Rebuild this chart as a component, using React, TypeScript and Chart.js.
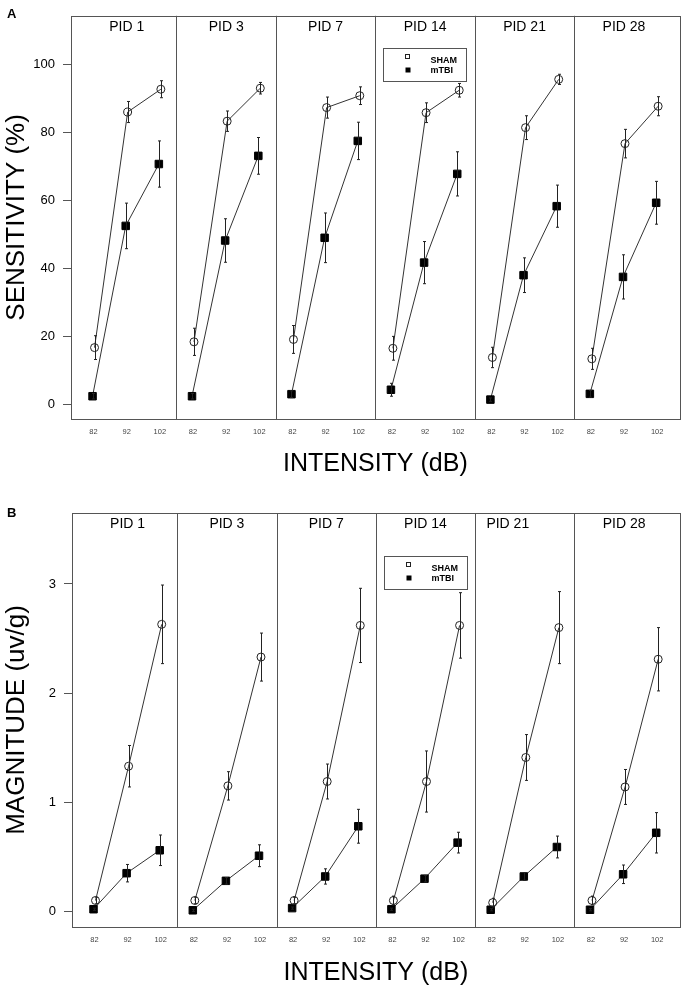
import { useEffect, useRef } from "react";
import { Chart, registerables } from "chart.js";

Chart.register(...registerables);

const FONT = "'Liberation Sans', Arial, sans-serif";

const pids = ["PID 1", "PID 3", "PID 7", "PID 14", "PID 21", "PID 28"];
const intensities = ["82", "92", "102"];

// sensitivity (%) per PID, at 82 / 92 / 102 dB
const shamSensitivity = [
    [16.7, 86.0, 92.7],
    [18.4, 83.3, 93.0],
    [19.1, 87.3, 90.8],
    [16.5, 85.8, 92.4],
    [13.8, 81.4, 95.6],
    [13.4, 76.7, 87.7],
];
const shamSensitivitySE = [
    [3.5, 3.1, 2.5],
    [4.0, 3.0, 1.7],
    [4.1, 3.1, 2.6],
    [3.5, 2.9, 2.0],
    [3.0, 3.5, 1.5],
    [3.1, 4.2, 2.8],
];
const mtbiSensitivity = [
    [2.4, 52.5, 70.7],
    [2.4, 48.2, 73.1],
    [3.0, 49.0, 77.5],
    [4.3, 41.7, 67.8],
    [1.4, 38.0, 58.3],
    [3.1, 37.5, 59.3],
];
const mtbiSensitivitySE = [
    [0.8, 6.7, 6.8],
    [0.8, 6.4, 5.4],
    [1.0, 7.3, 5.5],
    [1.9, 6.2, 6.5],
    [0.5, 5.1, 6.2],
    [1.0, 6.5, 6.3],
];

// magnitude (uv/g)
const shamMagnitude = [
    [0.10, 1.33, 2.63],
    [0.10, 1.15, 2.33],
    [0.10, 1.19, 2.62],
    [0.10, 1.19, 2.62],
    [0.08, 1.41, 2.60],
    [0.10, 1.14, 2.31],
];
const shamMagnitudeSE = [
    [0.03, 0.19, 0.36],
    [0.03, 0.13, 0.22],
    [0.03, 0.16, 0.34],
    [0.04, 0.28, 0.30],
    [0.04, 0.21, 0.33],
    [0.04, 0.16, 0.29],
];
const mtbiMagnitude = [
    [0.02, 0.35, 0.56],
    [0.01, 0.28, 0.51],
    [0.03, 0.32, 0.78],
    [0.02, 0.30, 0.63],
    [0.015, 0.32, 0.59],
    [0.015, 0.34, 0.72],
];
const mtbiMagnitudeSE = [
    [0.01, 0.08, 0.14],
    [0.01, 0.03, 0.10],
    [0.01, 0.07, 0.155],
    [0.01, 0.03, 0.095],
    [0.01, 0.035, 0.10],
    [0.01, 0.085, 0.185],
];

const sensitivityTicks = [0, 20, 40, 60, 80, 100];
const magnitudeTicks = [0, 1, 2, 3];

// each PID panel spans PANEL units on the shared x axis
const PANEL = 30;
const SLOT = [5, 15, 25];
const xPos = (p: number, i: number, shift = 0) => p * PANEL + SLOT[i] + shift;

const errorBars = {
    id: "errorBars",
    afterDatasetsDraw(chart: any) {
        const { ctx } = chart;
        const y = chart.scales.y;
        ctx.save();
        ctx.strokeStyle = "#222";
        ctx.lineWidth = 1;
        chart.data.datasets.forEach((ds: any, i: number) => {
            const meta = chart.getDatasetMeta(i);
            meta.data.forEach((pt: any, j: number) => {
                const v = ds.data[j].y;
                const e = ds.errors[j];
                const t = y.getPixelForValue(v + e);
                const b = y.getPixelForValue(v - e);
                const x = Math.round(pt.x) + 0.5;
                ctx.beginPath();
                ctx.moveTo(x, t);
                ctx.lineTo(x, b);
                ctx.moveTo(x - 1.5, t);
                ctx.lineTo(x + 1.5, t);
                ctx.moveTo(x - 1.5, b);
                ctx.lineTo(x + 1.5, b);
                ctx.stroke();
            });
        });
        ctx.restore();
    },
};

const decorations = {
    id: "decorations",
    afterDraw(chart: any, _args: any, opts: any) {
        const { ctx, chartArea: a } = chart;
        const x = chart.scales.x;
        ctx.save();
        ctx.strokeStyle = "#555";
        ctx.lineWidth = 1;
        ctx.strokeRect(Math.round(a.left) + 0.5, Math.round(a.top) + 0.5, Math.round(a.right - a.left), Math.round(a.bottom - a.top));
        for (let p = 1; p < pids.length; p++) {
            const px = Math.round(x.getPixelForValue(p * PANEL)) + 0.5;
            ctx.beginPath();
            ctx.moveTo(px, a.top);
            ctx.lineTo(px, a.bottom);
            ctx.stroke();
        }

        // PID headings
        ctx.fillStyle = "#000";
        ctx.font = `14px ${FONT}`;
        ctx.textAlign = "center";
        ctx.textBaseline = "middle";
        pids.forEach((name, p) => {
            const shift = opts.titleShift[p] || 0;
            ctx.fillText(name, x.getPixelForValue(xPos(p, 1)) + shift, a.top + 11);
        });

        // legend box inside PID 14
        const lx = Math.round(x.getPixelForValue(3 * PANEL)) + 8.5;
        const ly = Math.round(a.top + opts.legendTop) + 0.5;
        ctx.strokeStyle = "#555";
        ctx.strokeRect(lx, ly, 83, 33);
        ctx.strokeStyle = "#222";
        ctx.fillStyle = "#fff";
        ctx.fillRect(lx + 22, ly + 6, 4, 4);
        ctx.strokeRect(lx + 22, ly + 6, 4, 4);
        ctx.fillStyle = "#000";
        ctx.fillRect(lx + 22, ly + 19, 5, 5);
        ctx.font = `bold 9px ${FONT}`;
        ctx.textAlign = "left";
        ctx.fillText("SHAM", lx + 47, ly + 12.5);
        ctx.fillText("mTBI", lx + 47, ly + 22.5);

        // panel letter
        ctx.font = `bold 13px ${FONT}`;
        ctx.textBaseline = "alphabetic";
        ctx.fillText(opts.letter, 7, opts.letterY);
        ctx.restore();
    },
};

type PanelProps = {
    letter: string;
    letterY: number;
    yTitle: string;
    yTicks: number[];
    yMin: number;
    yMax: number;
    sham: number[][];
    shamSE: number[][];
    mtbi: number[][];
    mtbiSE: number[][];
    height: number;
    padTop: number;
    padRight: number;
    yAxisWidth: number;
    xAxisHeight: number;
    xTitlePad: number;
    legendTop: number;
    titleShift: number[];
};

const Panel = (props: PanelProps) => {
    const canvasRef = useRef<HTMLCanvasElement | null>(null);

    useEffect(() => {
        if (!canvasRef.current) return;

        const datasets = pids.flatMap((_, p) => [
            {
                label: "SHAM",
                data: props.sham[p].map((v, i) => ({ x: xPos(p, i, 0.3), y: v })),
                errors: props.shamSE[p],
                borderColor: "#333",
                borderWidth: 1,
                pointStyle: "circle",
                pointRadius: 4,
                pointBackgroundColor: "rgba(0,0,0,0)",
                pointBorderColor: "#222",
                pointBorderWidth: 1,
                tension: 0,
            },
            {
                label: "mTBI",
                data: props.mtbi[p].map((v, i) => ({ x: xPos(p, i, -0.3), y: v })),
                errors: props.mtbiSE[p],
                borderColor: "#333",
                borderWidth: 1,
                pointStyle: "rect",
                pointRadius: 5.3,
                pointBackgroundColor: "#000",
                pointBorderColor: "#000",
                pointBorderWidth: 1,
                tension: 0,
            },
        ]);

        const xTickValues = pids.flatMap((_, p) => SLOT.map((_s, i) => xPos(p, i)));

        const chart = new Chart(canvasRef.current, {
            type: "line",
            data: { datasets: datasets as any },
            options: {
                animation: false,
                responsive: false,
                layout: { padding: { top: props.padTop, right: props.padRight, left: 0, bottom: 0 } },
                plugins: {
                    legend: { display: false },
                    tooltip: { enabled: false },
                    decorations: {
                        letter: props.letter,
                        letterY: props.letterY,
                        legendTop: props.legendTop,
                        titleShift: props.titleShift,
                    },
                } as any,
                scales: {
                    x: {
                        type: "linear",
                        min: -1.8,
                        max: PANEL * pids.length + 1.8,
                        afterBuildTicks: (s: any) => {
                            s.ticks = xTickValues.map(value => ({ value }));
                        },
                        afterFit: (s: any) => {
                            s.height = props.xAxisHeight;
                        },
                        grid: { display: false, drawTicks: false },
                        border: { display: false },
                        ticks: {
                            autoSkip: false,
                            maxRotation: 0,
                            padding: 8,
                            color: "#444",
                            font: { size: 7.5, family: FONT },
                            callback: (_v: any, i: number) => intensities[i % intensities.length],
                        },
                        title: {
                            display: true,
                            text: "INTENSITY (dB)",
                            color: "#000",
                            font: { size: 25, family: FONT },
                            padding: { top: 0, bottom: props.xTitlePad },
                        },
                    },
                    y: {
                        type: "linear",
                        min: props.yMin,
                        max: props.yMax,
                        afterBuildTicks: (s: any) => {
                            s.ticks = props.yTicks.map(value => ({ value }));
                        },
                        afterFit: (s: any) => {
                            s.width = props.yAxisWidth;
                        },
                        grid: { drawOnChartArea: false, drawTicks: true, tickLength: 8, tickColor: "#555" },
                        border: { display: false },
                        ticks: {
                            padding: 8,
                            color: "#000",
                            font: { size: 13, family: FONT },
                        },
                        title: {
                            display: true,
                            text: props.yTitle,
                            color: "#000",
                            font: { size: 26, family: FONT },
                            padding: { top: 1, bottom: 0 },
                        },
                    },
                },
            },
            plugins: [errorBars, decorations],
        });

        return () => chart.destroy();
    }, [props]);

    return (
        <canvas
            ref={canvasRef}
            width={686}
            height={props.height}
            style={{ display: "block", width: 686, height: props.height }}
        />
    );
};

const panelA: PanelProps = {
    letter: "A",
    letterY: 18,
    yTitle: "SENSITIVITY (%)",
    yTicks: sensitivityTicks,
    yMin: -4.3,
    yMax: 114.3,
    sham: shamSensitivity,
    shamSE: shamSensitivitySE,
    mtbi: mtbiSensitivity,
    mtbiSE: mtbiSensitivitySE,
    height: 490,
    padTop: 5,
    padRight: 5,
    yAxisWidth: 71,
    xAxisHeight: 71,
    xTitlePad: 11,
    legendTop: 32,
    titleShift: [0, 0, 0, 0, 0, 0],
};

const panelB: PanelProps = {
    letter: "B",
    letterY: 27,
    yTitle: "MAGNITUDE (uv/g)",
    yTicks: magnitudeTicks,
    yMin: -0.143,
    yMax: 3.65,
    sham: shamMagnitude,
    shamSE: shamMagnitudeSE,
    mtbi: mtbiMagnitude,
    mtbiSE: mtbiMagnitudeSE,
    height: 503,
    padTop: 23,
    padRight: 4,
    yAxisWidth: 72,
    xAxisHeight: 66,
    xTitlePad: 5,
    legendTop: 43,
    titleShift: [0, 0, 0, 0, -17, 0],
};

export default function App() {
    useEffect(() => {
        document.body.style.margin = "0";
        document.body.style.background = "#fff";
    }, []);

    return (
        <div style={{ width: 686, height: 993, background: "#fff" }}>
            <Panel {...panelA} />
            <Panel {...panelB} />
        </div>
    );
}
